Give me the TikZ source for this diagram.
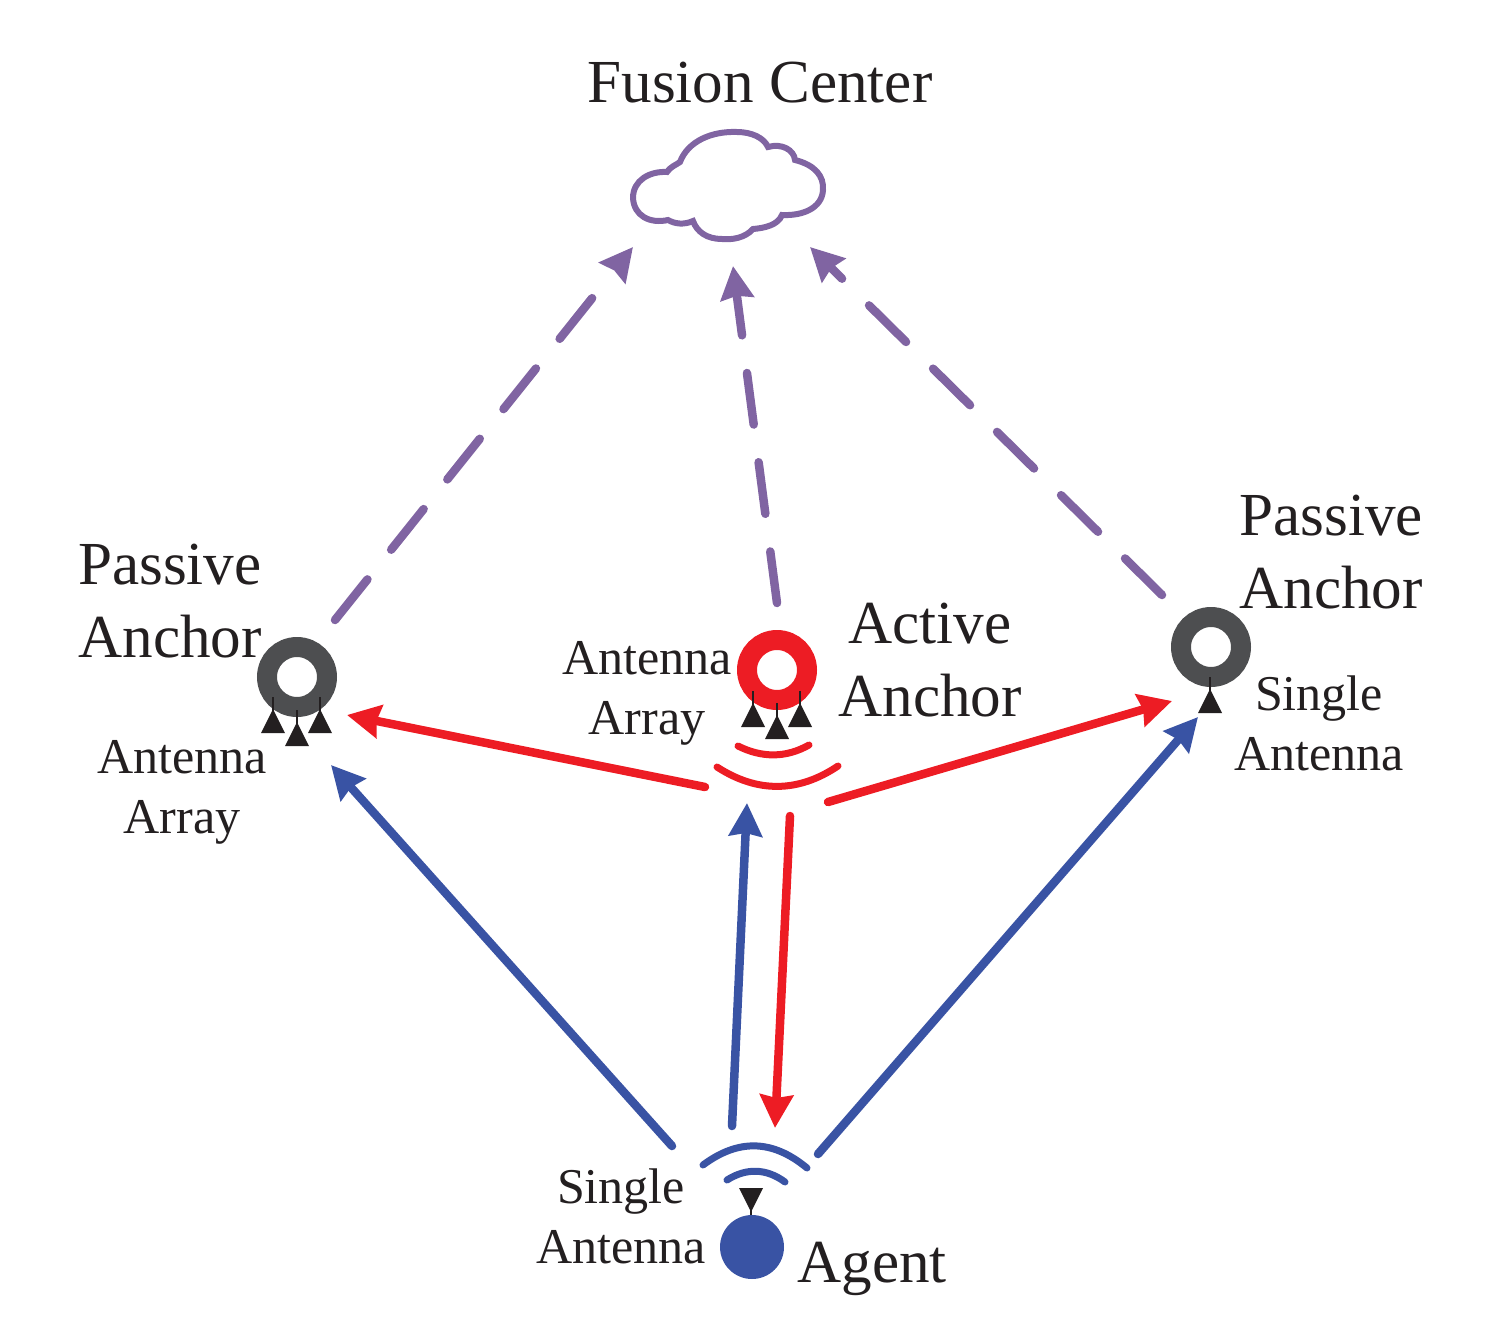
\documentclass[tikz,border=0pt]{standalone}
\usepackage{fontspec}
\setmainfont{Liberation Serif}
\usetikzlibrary{arrows.meta}
\definecolor{ringgray}{HTML}{4D4E50}
\definecolor{sigred}{HTML}{ED1C24}
\definecolor{sigblue}{HTML}{3953A4}
\definecolor{fcpurple}{HTML}{8064A2}
\definecolor{inkblack}{HTML}{231F20}
\tikzset{
  ring/.style  = {circle, draw, line width=4mm, minimum size=1.2cm, inner sep=0pt},
  big/.style   = {font=\fontsize{34.8}{41}\selectfont, text=inkblack, align=center, anchor=base},
  small/.style = {font=\fontsize{28.5}{34}\selectfont, text=inkblack, align=center, anchor=base},
  tx/.style    = {-{Stealth[length=6.6mm, width=6.6mm, inset=.6mm]}, line width=1.7mm, line cap=round},
  uplink/.style   = {tx, draw=sigblue},
  downlink/.style = {tx, draw=sigred},
  backhaul/.style = {tx, draw=fcpurple, dash pattern=on 10.4mm off 7.6mm},
  wave/.style  = {line width=1.4mm, line cap=round},
  ant/.pic = {
    \fill[inkblack] (-12,0) -- (12,0) -- (0,-24) -- cycle;
    \draw[inkblack, line width=.45mm] (0,-10) -- (0,-36);
  }
}

\begin{document}
\begin{tikzpicture}[x=.02cm, y=-.02cm]
\useasboundingbox (0,0) rectangle (1498,1339);
%% ===== fusion center =====
\node[big] (fclabel) at (760,102) {Fusion Center};
\draw[fcpurple, line width=1.2mm] (667,172)
  .. controls (670,167) and (676,165) .. (680,162)
  .. controls (688,141) and (712,131) .. (737,132)
  .. controls (752,132) and (764,138) .. (768,147)
  .. controls (782,143) and (794,150) .. (795,160)
  .. controls (815,165) and (824,176) .. (823,190)
  .. controls (822,208) and (803,216) .. (782,215)
  .. controls (778,225) and (765,228) .. (753,229)
  .. controls (745,238) and (732,240) .. (722,239)
  .. controls (707,239) and (697,232) .. (693,221)
  .. controls (684,225) and (675,224) .. (668,220)
  .. controls (650,224) and (634,216) .. (633,198)
  .. controls (633,180) and (650,171) .. (667,172) -- cycle;
%% ===== anchors and agent =====
% (1) passive, left
\node[ring, draw=ringgray] (pl) at (297,677) {};
\pic at (273,733) {ant};
\pic at (297,746) {ant};
\pic at (320,733) {ant};
\node[big] (pllabel) at (170,657) {Passive\\Anchor};
\node[small] (plant) at (182,833) {Antenna\\Array};
% (2) active
\node[ring, draw=sigred] (ac) at (777,670) {};
\pic at (753,727) {ant};
\pic at (777,739) {ant};
\pic at (800,727) {ant};
\node[big] (aclabel) at (930,716) {Active\\Anchor};
\node[small] (acant) at (647,734) {Antenna\\Array};
\draw[wave, sigred] (738,746) .. controls (762,758) and (786,758) .. (809,745);
\draw[wave, sigred] (717,767) .. controls (757,793) and (798,793) .. (838,766);
% (3) passive, right
\node[ring, draw=ringgray] (pr) at (1211,647) {};
\pic at (1210,713) {ant};
\node[big] (prlabel) at (1331,608) {Passive\\Anchor};
\node[small] (prant) at (1319,770) {Single\\Antenna};
% (4) agent
\pic[yscale=-1] at (751,1188) {ant};
\node[circle, fill=sigblue, minimum size=1.28cm, inner sep=0pt] (ag) at (752,1247) {};
\node[big] (aglabel) at (872,1282) {Agent};
\node[small] (agant) at (621,1263) {Single\\Antenna};
\draw[wave, sigblue] (703,1165) .. controls (738,1139) and (772,1139) .. (807,1168);
\draw[wave, sigblue] (727,1180) .. controls (746,1168) and (766,1168) .. (785,1182);
%% ===== connector ends =====
\coordinate (bp1) at (335,620);   \coordinate (bc1) at (633,247);
\coordinate (ba1) at (777,603);   \coordinate (bc2) at (733,266);
\coordinate (bp2) at (1162,595);  \coordinate (bc3) at (810,247);
\coordinate (dn0) at (705,787);   \coordinate (dn1) at (347,715);
\coordinate (dn2) at (828,802);   \coordinate (dn3) at (1172,701);
\coordinate (dn4) at (790,816);   \coordinate (dn5) at (775,1128);
\coordinate (up0) at (672,1146);  \coordinate (up1) at (331,765);
\coordinate (up2) at (732,1126);  \coordinate (up3) at (747,803);
\coordinate (up4) at (818,1154);  \coordinate (up5) at (1198,717);
%% ===== links =====
\draw[backhaul] (bp1) -- (bc1);
\draw[backhaul] (ba1) -- (bc2);
\draw[backhaul] (bp2) -- (bc3);
\draw[downlink] (dn0) -- (dn1);
\draw[downlink] (dn2) -- (dn3);
\draw[downlink] (dn4) -- (dn5);
\draw[uplink] (up0) -- (up1);
\draw[uplink] (up2) -- (up3);
\draw[uplink] (up4) -- (up5);
\end{tikzpicture}
\end{document}
